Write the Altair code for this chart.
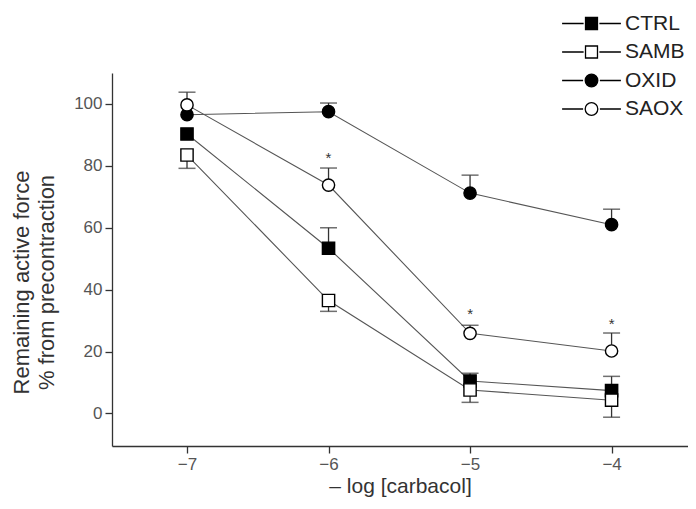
import altair as alt
import pandas as pd

# ---- data ----
conc = [-7, -6, -5, -4]
series = ["CTRL", "SAMB", "OXID", "SAOX"]
ctrl = [90.3, 53.4, 10.5, 7.4]
samb = [83.5, 36.5, 7.6, 4.3]
oxid = [96.5, 97.5, 71.2, 61.0]
saox = [99.7, 73.8, 25.9, 20.2]
# error bar ends (one-sided, None = not shown)
ctrl_err = [None, 60.0, 13.0, 12.0]
samb_err = [79.2, 33.0, 3.6, -1.2]
oxid_err = [None, 100.3, 77.0, 66.0]
saox_err = [103.8, 79.3, 28.5, 26.0]
# significance markers
star_x = [-6, -5, -4]
star_y = [82.5, 32.0, 29.0]

means = {"CTRL": ctrl, "SAMB": samb, "OXID": oxid, "SAOX": saox}
errs = {"CTRL": ctrl_err, "SAMB": samb_err, "OXID": oxid_err, "SAOX": saox_err}
shapes = {"CTRL": "square", "SAMB": "square", "OXID": "circle", "SAOX": "circle"}
fills = {"CTRL": "black", "SAMB": "white", "OXID": "black", "SAOX": "white"}

rows = []
for s in series:
    for i, c in enumerate(conc):
        rows.append({"series": s, "conc": c, "val": means[s][i], "err": errs[s][i],
                     "shp": shapes[s], "fil": fills[s]})
df = pd.DataFrame(rows)
err_df = df.dropna(subset=["err"])
star_df = pd.DataFrame({"conc": star_x, "val": star_y, "t": ["*"] * len(star_x)})
leg_df = pd.DataFrame({"series": series, "conc": [None] * 4, "val": [None] * 4})

xs = alt.Scale(domain=[-7.53, -3.46], nice=False, zero=False)
ys = alt.Scale(domain=[-10.5, 110], nice=False, zero=False)

FONT = "Liberation Sans"
GRAY = "#333333"

x_enc = alt.X("conc:Q", scale=xs,
              axis=alt.Axis(values=conc, format="d", title="\u2013 log [carbacol]",
                            grid=False, tickSize=7, labelPadding=3, titlePadding=3,
                            titleFontSize=21))
y_enc = alt.Y("val:Q", scale=ys,
              axis=alt.Axis(values=[0, 10, 20, 30, 40, 50, 60, 70, 80, 90, 100, 110],
                            labelExpr="datum.value % 20 == 0 && datum.value <= 100 ? datum.label : ''",
                            tickSize={"condition": {"test": "datum.value % 20 != 0", "value": 4}, "value": 7},
                            grid=False, labelPadding=3,
                            title=["Remaining active force", "% from precontraction"],
                            titlePadding=15, titleLineHeight=25, titleFontSize=22, titleY=209))

lines = alt.Chart(df).mark_line(color="#555555", strokeWidth=1.1).encode(
    x=x_enc, y=y_enc, detail="series:N")

ebar = alt.Chart(err_df).mark_rule(color=GRAY, strokeWidth=1.3).encode(
    x="conc:Q", y="val:Q", y2="err:Q")
caps = alt.Chart(err_df).mark_tick(orient="horizontal", color=GRAY, thickness=1.5, size=17).encode(
    x="conc:Q", y="err:Q")

pts = alt.Chart(df).mark_point(filled=True, size=150, stroke="black", strokeWidth=1.4, opacity=1).encode(
    x="conc:Q", y="val:Q",
    shape=alt.Shape("shp:N", scale=None),
    fill=alt.Fill("fil:N", scale=None))

stars = alt.Chart(star_df).mark_text(fontSize=15, font=FONT, color=GRAY, baseline="middle").encode(
    x="conc:Q", y="val:Q", text="t:N")

# legend glyphs: line - marker - line (coordinates in symbol units, r = sqrt(size)/2)
sq_path = "M-2.8,0H-0.75M0.75,0H2.8M-0.57,-0.57H0.57V0.57H-0.57Z"
ci_path = "M-2.8,0H-0.8M0.8,0H2.8M-0.6,0A0.6,0.6 0 1,0 0.6,0A0.6,0.6 0 1,0 -0.6,0Z"

legend_layer = alt.Chart(leg_df).mark_point(filled=True, stroke="black", strokeWidth=1.3, opacity=1).encode(
    x="conc:Q", y="val:Q",
    shape=alt.Shape("series:N", scale=alt.Scale(domain=series, range=[sq_path, sq_path, ci_path, ci_path]),
                    legend=alt.Legend(title=None, orient="none", legendX=468, legendY=-61,
                                      symbolSize=441, symbolStrokeWidth=1.3, labelFontSize=21,
                                      labelFont=FONT, labelColor="#222222", rowPadding=6.5,
                                      symbolStrokeColor="black", labelOffset=22)),
    fill=alt.Fill("series:N", scale=alt.Scale(domain=series, range=["black", "white", "black", "white"]),
                  legend=None))

chart = alt.layer(lines, ebar, caps, pts, stars, legend_layer).properties(
    width=576, height=373,
    autosize=alt.AutoSizeParams(type="none"),
    padding={"left": 104, "top": 65, "right": 0, "bottom": 55},
).configure_view(stroke=None).configure_axis(
    domainColor=GRAY, domainWidth=1.3, tickColor=GRAY, tickWidth=1.3,
    labelFont=FONT, labelFontSize=17, labelColor="#555555",
    titleFont=FONT, titleColor="#333333", titleFontWeight="normal",
)

chart.save("out.html", embed_options={"renderer": "svg", "actions": False})
